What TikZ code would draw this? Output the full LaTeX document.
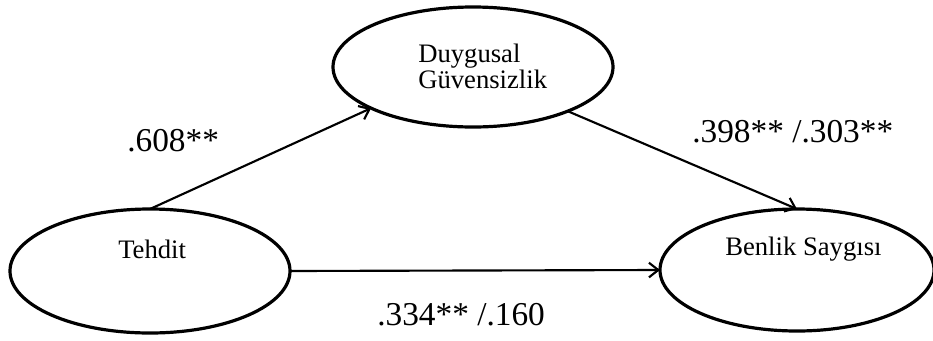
\documentclass[tikz,border=0pt]{standalone}
\usepackage{fontspec}
\setmainfont{Liberation Serif}
\usetikzlibrary{shapes.geometric,arrows.meta}
\begin{document}
\begin{tikzpicture}[x=0.75pt,y=-0.75pt,
  latent/.style={draw,ellipse,line width=2.4pt,inner sep=0pt,outer sep=0pt},
  path/.style={line width=1.6pt,-{Straight Barb[length=7pt,width=11pt,line width=1.6pt]}},
  vname/.style={inner sep=0pt,anchor=base west,font=\fontsize{20}{17}\selectfont},
  coef/.style={inner sep=0pt,anchor=base west,font=\fontsize{25}{30}\selectfont}]
\useasboundingbox (0,0) rectangle (933,340);
\node[latent,minimum width=280pt*0.75,minimum height=120pt*0.75] (duy) at (473,67) {};
\node[latent,minimum width=280pt*0.75,minimum height=124pt*0.75] (teh) at (150,271) {};
\node[latent,minimum width=274pt*0.75,minimum height=122pt*0.75] (ben) at (797,270) {};
\node[vname,align=left,anchor=north west] (duyt) at (418,44) {Duygusal\\Güvensizlik};
\node[vname] (teht) at (118,258) {Tehdit};
\node[vname] (bent) at (725,255) {Benlik Saygısı};
\draw[path] (teh.north) -- (duy.202.6);
\draw[path] (duy.335.8) -- (ben.north);
\draw[path] (teh.east) -- (ben.west);
\node[coef] (c1) at (127,151) {.608**};
\node[coef] (c2) at (692,142) {.398** /.303**};
\node[coef] (c3) at (377,325) {.334** /.160};
\end{tikzpicture}
\end{document}
